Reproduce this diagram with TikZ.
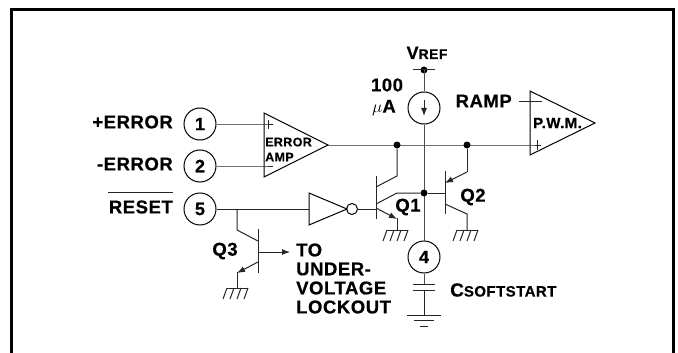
\documentclass[tikz,border=0pt]{standalone}
\usepackage{fontspec}
\setmainfont[LetterSpace=3,BoldFeatures={FakeBold=0.5}]{Liberation Sans}
\usetikzlibrary{arrows.meta}
\tikzset{
 wire/.style={line width=1pt,black!85},
 pin/.style={circle,draw,line width=1pt,minimum size=32pt,inner sep=0pt,font=\fontsize{18}{18}\selectfont\bfseries},
 lbl/.style={inner sep=0pt,font=\fontsize{18.5}{20}\selectfont\bfseries},
 amp/.style={line width=1pt,draw},
 dot/.style={circle,fill=black,inner sep=0pt,minimum size=7pt},
 tip/.style={-{Latex[length=8pt,width=6pt]}}
}
\newcommand{\gnd}[2]{\draw[wire] (#1-10,#2) -- (#1+11,#2);
 \foreach \dx in {-10,-3,4,11} {\draw[wire] (#1+\dx,#2) -- (#1+\dx-4,#2+11);}}
\begin{document}
\begin{tikzpicture}[x=1pt,y=-1pt]
\useasboundingbox (0,0) rectangle (678,353);
\fill[white] (0,0) rectangle (678,353);
\draw[line width=3pt] (11.5,353) -- (11.5,9.5) -- (673,9.5) -- (673,353);
\node[pin] (p1) at (200,124) {1};
\node[pin] (p2) at (200,166) {2};
\node[pin] (p5) at (200,209) {5};
\node[pin] (p4) at (424,257) {4};
\node[circle,draw,line width=1pt,minimum size=32pt,inner sep=0pt] (cs) at (424,108) {};
\node[lbl,anchor=east] at (173,122) {+ERROR};
\node[lbl,anchor=east] at (173,164) {-ERROR};
\node[lbl,anchor=east] at (173,207) {RESET};
\draw[wire] (108,192) -- (173,192);
\coordinate (ea1) at (264,124); \coordinate (ea2) at (264,166); \coordinate (eao) at (328,145);
\draw[amp] (264,113) -- (264,177) -- (eao) -- cycle;
\draw[wire] (p1) -- (ea1) -- ++(9,0);
\draw[wire] (p2) -- (ea2) -- ++(9,0);
\draw[wire] (268.5,119.5) -- (268.5,128.5);
\node[inner sep=0pt,align=left,anchor=west,font=\fontsize{12.5}{15}\selectfont\bfseries] at (265,149.5) {ERROR\\AMP};
\coordinate (pw1) at (530,102); \coordinate (pw2) at (530,145);
\draw[amp] (530,91) -- (530,155) -- (595,123) -- cycle;
\node[inner sep=0pt,anchor=west,font=\fontsize{15}{16}\selectfont\bfseries] at (533,123) {P.W.M.};
\node[lbl,anchor=east] (ramp) at (512,101) {RAMP};
\coordinate (rs) at (519,102);
\draw[wire] (rs) -- (542,102);
\draw[wire] (eao) -- (pw2) -- ++(11,0);
\draw[wire] (537,140) -- (537,150);
\coordinate (vr) at (424,70);
\node[dot] (dvr) at (vr) {};
\draw[wire] (413,70) -- (435,70);
\node[inner sep=0pt,anchor=base,font=\bfseries] (vref) at (427,59) {\fontsize{18}{18}\selectfont V\fontsize{14}{18}\selectfont REF};
\draw[wire,black!70] (vr) -- (cs) (cs) -- (p4);
\draw[wire,tip] (424,100) -- (424,116);
\node[lbl] at (387,85) {100};
\node[lbl] at (384,108) {$\mu$A};
\node[dot] (j1) at (397,145) {};
\node[dot] (j2) at (467,145) {};
\node[dot] (j3) at (424,193) {};
% inverter
\coordinate (inv) at (309,209);
\draw[wire] (p5) -- (inv);
\draw[amp] (309,193) -- (309,225) -- (347,209) -- cycle;
\node[circle,draw,line width=1pt,inner sep=0pt,minimum size=11pt] (bub) at (352,209) {};
% Q1
\draw[wire] (376,176) -- (376,219);
\draw[wire] (bub) -- (376,209);
\draw[wire] (j1) -- (397,176) -- (376,187);
\draw[wire] (j3) -- (397,193) -- (376,204);
\draw[wire,tip] (376,208) -- (397,219);
\draw[wire] (397,218) -- (397,230);
\gnd{397}{230}
\node[lbl] at (408,207) {Q1};
% Q2
\draw[wire] (445,171) -- (445,214);
\draw[wire] (j3) -- (445,193);
\draw[wire] (j2) -- (467,172);
\draw[wire,tip] (467,172) -- (445,183);
\draw[wire] (445,204) -- (467,214) -- (467,230);
\gnd{467}{230}
\node[lbl] at (473,197) {Q2};
% Q3
\coordinate (b3) at (237,209);
\draw[wire] (258,229) -- (258,273);
\draw[wire] (b3) -- (237,230) -- (258,241);
\draw[wire,tip] (258,252) -- (290,252);
\draw[wire,tip] (258,262) -- (237,273);
\draw[wire] (237,272) -- (237,288);
\gnd{237}{288}
\node[lbl] at (225,251) {Q3};
\node[lbl,anchor=west] at (296,250) {TO};
\node[lbl,anchor=west] at (296,269) {UNDER-};
\node[lbl,anchor=west] at (296,288) {VOLTAGE};
\node[lbl,anchor=west] at (296,307) {LOCKOUT};
% cap
\draw[wire,black!70] (p4) -- (424,284);
\draw[wire] (413,284) -- (435,284);
\draw[wire] (413,290) -- (435,290);
\draw[wire] (424,290) -- (424,315);
\draw[wire] (407,315) -- (441,315);
\draw[wire] (414,320) -- (434,320);
\draw[wire] (420,326) -- (428,326);
\node[inner sep=0pt,anchor=west,font=\bfseries] at (450,290) {\fontsize{19}{18}\selectfont C\fontsize{15}{18}\selectfont SOFTSTART};
\end{tikzpicture}
\end{document}
